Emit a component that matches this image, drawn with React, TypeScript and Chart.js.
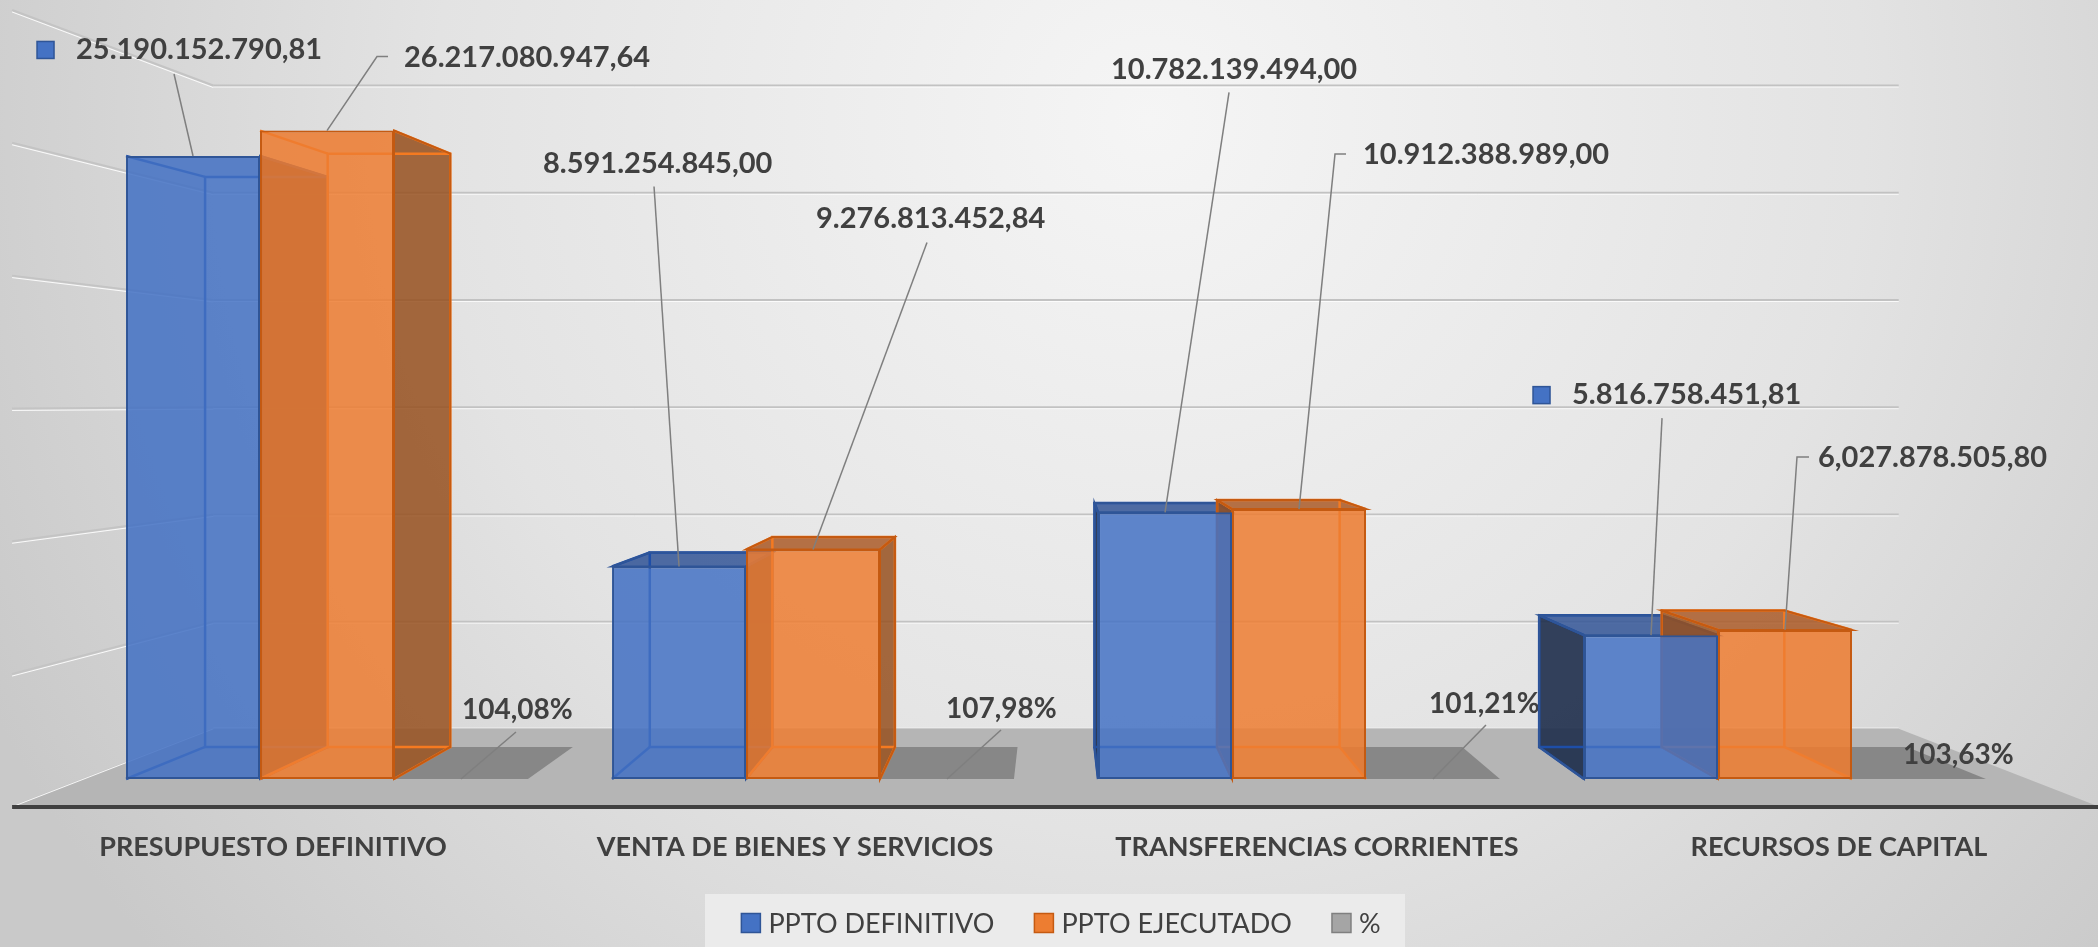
import React, { useEffect, useRef } from 'react';
import { Chart, registerables } from 'chart.js';

Chart.register(...registerables);

// ---------------- DATA ----------------
const categories = [
  'PRESUPUESTO DEFINITIVO',
  'VENTA DE BIENES Y SERVICIOS',
  'TRANSFERENCIAS CORRIENTES',
  'RECURSOS DE CAPITAL',
];
const seriesNames = ['PPTO DEFINITIVO', 'PPTO EJECUTADO', '%'];
const pptoDefinitivo = [25190152790.81, 8591254845.0, 10782139494.0, 5816758451.81];
const pptoEjecutado = [26217080947.64, 9276813452.84, 10912388989.0, 6027878505.8];
const porcentaje = [104.08, 107.98, 101.21, 103.63];
const definitivoLabels = ['25.190.152.790,81', '8.591.254.845,00', '10.782.139.494,00', '5.816.758.451,81'];
const ejecutadoLabels = ['26.217.080.947,64', '9.276.813.452,84', '10.912.388.989,00', '6,027.878.505,80'];
const porcentajeLabels = ['104,08%', '107,98%', '101,21%', '103,63%'];
const yMin = 0;
const yMax = 30000000000;
const yStep = 5000000000;

// ---------------- LAYOUT / STYLE ----------------
const W = 2098;
const H = 947;
const VANISH_Y = 0.492;
const DEPTH_BACK = 0.915;
const DEPTH_WALL = 0.867;
const DEPTH_FRONT = 1.074;
const TEXT = '#404040';
const FONT = 'Lato, "Open Sans", sans-serif';

const definitivoLabelPos = [
  { dx: -117, dy: -106, leader: [[-19, -82]], key: true },
  { dx: -136, dy: -403, leader: [[-25, -380]], key: false },
  { dx: -54, dy: -443, leader: [[64, -420]], key: false },
  { dx: -79, dy: -240, leader: [[11, -217]], key: true },
];
const ejecutadoLabelPos = [
  { dx: 77, dy: -73, leader: [[61, -74], [50, -74]], key: false },
  { dx: 3, dy: -331, leader: [[114, -307]], key: false },
  { dx: 64, dy: -354, leader: [[47, -355], [36, -355]], key: false },
  { dx: 33, dy: -172, leader: [[24, -173], [12, -173]], key: false },
];
const porcentajeLabelPos = [
  { dx: 1, dy: -69, leader: [[55, -47]], key: false },
  { dx: -1, dy: -70, leader: [[54, -49]], key: false },
  { dx: -4, dy: -75, leader: [[53, -54]], key: false },
  { dx: -16, dy: -24, leader: [], key: false },
];

const STYLE = [
  {
    front: 'rgba(68,114,196,0.85)', border: '#2f5597', outerSide: 'rgba(30,45,75,0.9)',
    outerTop: 'rgba(50,85,150,0.85)', hidden: 'rgba(40,70,140,0.10)', wire: '#1e4ea8', key: '#4472c4',
  },
  {
    front: 'rgba(237,125,49,0.85)', border: '#c55a11', outerSide: 'rgba(150,80,30,0.85)',
    outerTop: 'rgba(170,90,40,0.85)', hidden: 'rgba(190,90,20,0.10)', wire: '#f57a20', key: '#ed7d31',
  },
  {
    front: 'rgba(165,165,165,0.85)', border: '#7f7f7f', outerSide: '', outerTop: '', hidden: '',
    wire: '', key: '#a5a5a5', slab: '#878787',
  },
];

function geom(chart: any) {
  const ca = chart.chartArea;
  const V = { x: (ca.left + ca.right) / 2, y: ca.top + VANISH_Y * (ca.bottom - ca.top) };
  const proj = (x: number, y: number, f: number): [number, number] => [V.x + f * (x - V.x), V.y + f * (y - V.y)];
  return { ca, V, proj };
}

function poly(ctx: CanvasRenderingContext2D, pts: [number, number][]) {
  ctx.beginPath();
  ctx.moveTo(pts[0][0], pts[0][1]);
  for (let i = 1; i < pts.length; i++) ctx.lineTo(pts[i][0], pts[i][1]);
  ctx.closePath();
}

function line(ctx: CanvasRenderingContext2D, a: [number, number], b: [number, number]) {
  ctx.beginPath();
  ctx.moveTo(a[0], a[1]);
  ctx.lineTo(b[0], b[1]);
  ctx.stroke();
}

function barBox(el: any) {
  const p = el.getProps(['x', 'y', 'base', 'width'], true);
  return { x0: p.x - p.width / 2, x1: p.x + p.width / 2, yt: Math.min(p.y, p.base), yb: p.base, cx: p.x };
}

function drawLabel(ctx: CanvasRenderingContext2D, ax: number, ay: number, text: string, pos: any, font: string, keyColor: string, keyBorder: string) {
  ctx.save();
  if (pos.leader.length) {
    ctx.strokeStyle = '#7f7f7f';
    ctx.lineWidth = 1.5;
    ctx.beginPath();
    ctx.moveTo(ax + pos.leader[0][0], ay + pos.leader[0][1]);
    for (let i = 1; i < pos.leader.length; i++) ctx.lineTo(ax + pos.leader[i][0], ay + pos.leader[i][1]);
    ctx.lineTo(ax, ay);
    ctx.stroke();
  }
  ctx.font = font;
  ctx.fillStyle = TEXT;
  ctx.textAlign = 'left';
  ctx.textBaseline = 'middle';
  const tx = ax + pos.dx;
  const ty = ay + pos.dy;
  ctx.fillText(text, tx, ty);
  if (pos.key) {
    ctx.fillStyle = keyColor;
    ctx.fillRect(tx - 39, ty - 8.5, 17, 17);
    ctx.strokeStyle = keyBorder;
    ctx.lineWidth = 1.5;
    ctx.strokeRect(tx - 39, ty - 8.5, 17, 17);
  }
  ctx.restore();
}

const threeD = {
  id: 'threeD',
  beforeDraw(chart: any) {
    const ctx: CanvasRenderingContext2D = chart.ctx;
    const { ca, proj } = geom(chart);
    const ys = chart.scales.y;
    ctx.save();
    // background
    const g = ctx.createRadialGradient(1150, 120, 0, 1150, 120, 1300);
    g.addColorStop(0, '#f5f5f5');
    g.addColorStop(0.55, '#e3e3e3');
    g.addColorStop(1, '#c9c9c9');
    ctx.fillStyle = g;
    ctx.fillRect(0, 0, chart.width, chart.height);

    // wall grid
    const wl = proj(ca.left, 0, DEPTH_WALL)[0];
    const wr = proj(ca.right, 0, DEPTH_WALL)[0];
    for (let v = yMin; v <= yMax + 1; v += yStep) {
      const yf = ys.getPixelForValue(v);
      const yw = proj(0, yf, DEPTH_WALL)[1];
      ctx.lineWidth = 2;
      ctx.strokeStyle = '#c2c2c2';
      line(ctx, [wl, yw], [wr, yw]);
      ctx.lineWidth = 1;
      ctx.strokeStyle = 'rgba(255,255,255,0.8)';
      line(ctx, [wl, yw + 1.5], [wr, yw + 1.5]);
      // left wall
      const fp = proj(ca.left, yf, DEPTH_FRONT);
      ctx.lineWidth = 2;
      ctx.strokeStyle = '#c4c4c4';
      line(ctx, [wl, yw], fp);
      ctx.lineWidth = 1;
      ctx.strokeStyle = 'rgba(255,255,255,0.9)';
      line(ctx, [wl, yw + 2], [fp[0], fp[1] + 2]);
    }

    // floor
    const base = ys.getPixelForValue(0);
    const fl = proj(ca.left, base, DEPTH_FRONT);
    const fr = proj(ca.right, base, DEPTH_FRONT);
    const bl = proj(ca.left, base, DEPTH_WALL);
    const br = proj(ca.right, base, DEPTH_WALL);
    poly(ctx, [fl, fr, br, bl]);
    ctx.fillStyle = '#b5b5b5';
    ctx.fill();
    ctx.lineWidth = 1;
    ctx.strokeStyle = 'rgba(255,255,255,0.85)';
    line(ctx, fl, bl);
    ctx.strokeStyle = 'rgba(255,255,255,0.6)';
    line(ctx, [bl[0], bl[1] - 1], [br[0], br[1] - 1]);
    // axis line
    ctx.lineWidth = 4;
    ctx.strokeStyle = '#404040';
    line(ctx, [fl[0], fl[1]], [chart.width, fl[1]]);
    ctx.restore();
  },
  beforeDatasetsDraw(chart: any) {
    const ctx: CanvasRenderingContext2D = chart.ctx;
    const { V, proj } = geom(chart);
    const B = (x: number, y: number) => proj(x, y, DEPTH_BACK);
    ctx.save();
    // slabs for % series
    const pm = chart.getDatasetMeta(2);
    pm.data.forEach((el: any) => {
      const b = barBox(el);
      poly(ctx, [[b.x0, b.yb], [b.x1, b.yb], B(b.x1, b.yb), B(b.x0, b.yb)]);
      ctx.fillStyle = (STYLE[2] as any).slab;
      ctx.fill();
    });
    // % labels (sit below the bars)
    pm.data.forEach((el: any, i: number) => {
      const b = barBox(el);
      drawLabel(ctx, b.cx, b.yb, porcentajeLabels[i], porcentajeLabelPos[i], `bold 28px ${FONT}`, '', '');
    });
    // 3D faces of value bars
    for (let d = 0; d < 2; d++) {
      const st = STYLE[d];
      chart.getDatasetMeta(d).data.forEach((el: any) => {
        const { x0, x1, yt, yb } = barBox(el);
        const left: [number, number][] = [[x0, yt], [x0, yb], B(x0, yb), B(x0, yt)];
        const right: [number, number][] = [[x1, yt], [x1, yb], B(x1, yb), B(x1, yt)];
        const top: [number, number][] = [[x0, yt], [x1, yt], B(x1, yt), B(x0, yt)];
        const bottom: [number, number][] = [[x0, yb], [x1, yb], B(x1, yb), B(x0, yb)];
        const leftOut = x0 > V.x;
        const rightOut = x1 < V.x;
        const topOut = yt > V.y;
        // hidden faces
        ctx.fillStyle = st.hidden;
        const hiddenFaces = [bottom];
        if (!leftOut) hiddenFaces.push(left);
        if (!rightOut) hiddenFaces.push(right);
        if (!topOut) hiddenFaces.push(top);
        hiddenFaces.forEach((f) => { poly(ctx, f); ctx.fill(); });
        // outer faces
        const outer: [number, number][][] = [];
        if (leftOut) outer.push(left);
        if (rightOut) outer.push(right);
        outer.forEach((f) => { poly(ctx, f); ctx.fillStyle = st.outerSide; ctx.fill(); });
        if (topOut) { poly(ctx, top); ctx.fillStyle = st.outerTop; ctx.fill(); }
        // wireframe of back edges
        ctx.strokeStyle = st.wire;
        ctx.lineWidth = 2.5;
        poly(ctx, [B(x0, yt), B(x1, yt), B(x1, yb), B(x0, yb)]);
        ctx.stroke();
        line(ctx, [x0, yt], B(x0, yt));
        line(ctx, [x1, yt], B(x1, yt));
        line(ctx, [x0, yb], B(x0, yb));
        line(ctx, [x1, yb], B(x1, yb));
        // outlines of outer faces
        ctx.strokeStyle = st.border;
        ctx.lineWidth = 2;
        outer.forEach((f) => { poly(ctx, f); ctx.stroke(); });
        if (topOut) { poly(ctx, top); ctx.stroke(); }
      });
    }
    ctx.restore();
  },
  afterDatasetsDraw(chart: any) {
    const ctx: CanvasRenderingContext2D = chart.ctx;
    const { proj } = geom(chart);
    const ys = chart.scales.y;
    const xs = chart.scales.x;
    ctx.save();
    // value labels
    const sets = [
      { meta: chart.getDatasetMeta(0), labels: definitivoLabels, pos: definitivoLabelPos },
      { meta: chart.getDatasetMeta(1), labels: ejecutadoLabels, pos: ejecutadoLabelPos },
    ];
    sets.forEach((s, d) => {
      s.meta.data.forEach((el: any, i: number) => {
        const b = barBox(el);
        drawLabel(ctx, b.cx, b.yt, s.labels[i], s.pos[i], `bold 29px ${FONT}`, STYLE[d].key, STYLE[d].border);
      });
    });
    // category labels
    const base = ys.getPixelForValue(0);
    ctx.font = `bold 27px ${FONT}`;
    ctx.fillStyle = TEXT;
    ctx.textAlign = 'center';
    ctx.textBaseline = 'middle';
    categories.forEach((c, i) => {
      const p = proj(xs.getPixelForValue(i), base, DEPTH_FRONT);
      ctx.fillText(c, p[0], 847);
    });
    // legend
    ctx.fillStyle = 'rgba(236,236,236,0.9)';
    ctx.fillRect(705, 894, 700, 53);
    ctx.font = `27px ${FONT}`;
    ctx.textAlign = 'left';
    const key = 19;
    const gapKey = 8;
    const gapItem = 40;
    const widths = seriesNames.map((n) => ctx.measureText(n).width);
    const total = widths.reduce((a, w) => a + key + gapKey + w, 0) + gapItem * (seriesNames.length - 1);
    let x = 1061 - total / 2;
    const cy = 923;
    seriesNames.forEach((n, i) => {
      ctx.fillStyle = STYLE[i].key;
      ctx.fillRect(x, cy - key / 2, key, key);
      ctx.strokeStyle = STYLE[i].border;
      ctx.lineWidth = 1.5;
      ctx.strokeRect(x, cy - key / 2, key, key);
      ctx.fillStyle = TEXT;
      ctx.fillText(n, x + key + gapKey, cy + 1);
      x += key + gapKey + widths[i] + gapItem;
    });
    ctx.restore();
  },
};

export default function App() {
  const ref = useRef<HTMLCanvasElement>(null);
  useEffect(() => {
    document.body.style.margin = '0';
    document.body.style.overflow = 'hidden';
    const chart = new Chart(ref.current as HTMLCanvasElement, {
      type: 'bar',
      data: {
        labels: categories,
        datasets: [
          {
            label: seriesNames[0], data: pptoDefinitivo, backgroundColor: STYLE[0].front,
            borderColor: STYLE[0].border, borderWidth: 2, borderSkipped: false,
          },
          {
            label: seriesNames[1], data: pptoEjecutado, backgroundColor: STYLE[1].front,
            borderColor: STYLE[1].border, borderWidth: 2, borderSkipped: false,
          },
          {
            label: seriesNames[2], data: porcentaje, backgroundColor: STYLE[2].front,
            borderColor: STYLE[2].border, borderWidth: 0,
          },
        ],
      },
      options: {
        animation: false,
        responsive: false,
        devicePixelRatio: 1,
        events: [],
        layout: { padding: { left: 84, right: 70, top: 37, bottom: 168 } },
        datasets: { bar: { categoryPercentage: 0.827, barPercentage: 1 } },
        plugins: { legend: { display: false }, tooltip: { enabled: false } },
        scales: {
          x: { display: false },
          y: { display: false, min: yMin, max: yMax, ticks: { stepSize: yStep } },
        },
      },
      plugins: [threeD],
    } as any);
    return () => chart.destroy();
  }, []);
  return (
    <canvas
      ref={ref}
      width={W}
      height={H}
      style={{ display: 'block', width: `${W}px`, height: `${H}px` }}
    />
  );
}
